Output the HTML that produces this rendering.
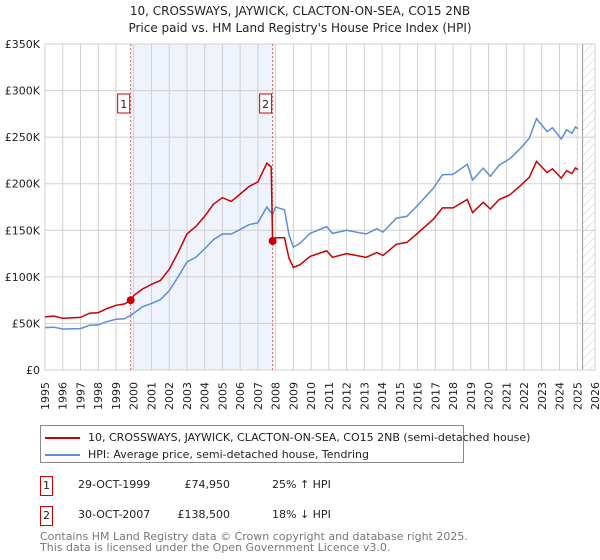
<!DOCTYPE html>
<html><head><meta charset="utf-8">
<style>
body{margin:0;background:#fff;font-family:"DejaVu Sans","Liberation Sans",sans-serif;}
#wrap{position:relative;width:600px;height:560px;overflow:hidden;}
svg text{font-family:"DejaVu Sans","Liberation Sans",sans-serif;}
</style></head><body>
<div id="wrap">
<svg id="chart" width="600" height="560" xmlns="http://www.w3.org/2000/svg">
<defs>
<pattern id="hatch" width="6" height="6" patternUnits="userSpaceOnUse" patternTransform="rotate(45)">
<line x1="0" y1="0" x2="0" y2="6" stroke="#ccc" stroke-width="1"/>
</pattern>
</defs>
<text x="300" y="15" text-anchor="middle" font-size="12" fill="#222">10, CROSSWAYS, JAYWICK, CLACTON-ON-SEA, CO15 2NB</text>
<text x="300" y="32" text-anchor="middle" font-size="12" fill="#222">Price paid vs. HM Land Registry's House Price Index (HPI)</text>
<g id="grid"></g>
<g id="marks"></g>
<g id="axes"></g>
</svg>
<div style="position:absolute;left:40px;top:425px;width:422px;height:36px;border:1px solid #888;font-size:11px;color:#222;">
 <div style="position:absolute;left:4px;top:5px;white-space:nowrap;"><span style="display:inline-block;width:35px;height:2px;background:#cc0000;vertical-align:middle;margin-right:8px;"></span>10, CROSSWAYS, JAYWICK, CLACTON-ON-SEA, CO15 2NB (semi-detached house)</div>
 <div style="position:absolute;left:4px;top:22px;white-space:nowrap;"><span style="display:inline-block;width:35px;height:2px;background:#5b8fd6;vertical-align:middle;margin-right:8px;"></span>HPI: Average price, semi-detached house, Tendring</div>
</div>
<div style="font-size:11px;color:#222;">
 <div style="position:absolute;left:40px;top:476px;width:11px;height:18px;border:1px solid #cc0000;text-align:center;line-height:18px;">1</div>
 <div style="position:absolute;left:78px;top:478px;">29-OCT-1999</div>
 <div style="position:absolute;left:150px;width:80px;text-align:right;top:478px;">£74,950</div>
 <div style="position:absolute;left:272px;top:478px;">25% ↑ HPI</div>
 <div style="position:absolute;left:40px;top:506px;width:11px;height:18px;border:1px solid #cc0000;text-align:center;line-height:18px;">2</div>
 <div style="position:absolute;left:78px;top:508px;">30-OCT-2007</div>
 <div style="position:absolute;left:150px;width:80px;text-align:right;top:508px;">£138,500</div>
 <div style="position:absolute;left:272px;top:508px;">18% ↓ HPI</div>
</div>
<div style="position:absolute;left:40px;top:531px;font-size:11px;color:#777;line-height:11px;">Contains HM Land Registry data © Crown copyright and database right 2025.<br>This data is licensed under the Open Government Licence v3.0.</div>
</div>
<script>
const hpiYears=[1995,1995.5,1996,1997,1997.5,1998,1998.5,1999,1999.5,2000,2000.5,2001,2001.5,2002,2002.5,2003,2003.5,2004,2004.5,2005,2005.5,2006,2006.5,2007,2007.5,2007.83,2008,2008.5,2008.75,2009,2009.37,2009.94,2010.88,2011.2,2012,2013.1,2013.7,2014.05,2014.8,2015.4,2015.95,2016.9,2017.4,2018,2018.8,2019.1,2019.7,2020.1,2020.6,2021.2,2021.8,2022.3,2022.7,2023.3,2023.6,2024.1,2024.4,2024.7,2024.9,2025.05];
const hpiValues=[45.5,46,44,44.5,48,48.5,52,54.5,55,61,68,71.5,75.5,85,100,116,121,130,140,146,146,151,156,158,175,167,175,172,145,132,136,146.7,153.9,146.7,150,146,151.7,148,163,165,175.6,195.4,209.7,210,221,204,216.8,208,220,226.7,238,249,270,256,260,248,258,254,261,259];
const priceYears=[1995,1995.5,1996,1997,1997.5,1998,1998.5,1999,1999.5,1999.83,2000,2000.5,2001,2001.5,2002,2002.5,2003,2003.5,2004,2004.5,2005,2005.5,2006,2006.5,2007,2007.5,2007.75,2007.83,2008,2008.5,2008.75,2009,2009.37,2009.94,2010.88,2011.2,2012,2013.1,2013.7,2014.05,2014.8,2015.4,2015.95,2016.9,2017.4,2018,2018.8,2019.1,2019.7,2020.1,2020.6,2021.2,2021.8,2022.3,2022.7,2023.3,2023.6,2024.1,2024.4,2024.7,2024.9,2025.05];
const priceValues=[57,58,55.5,56.5,61,61.5,66,69.5,71,74.95,80,87,92,96,108,126,146,154,165,178,185,181,189,197,202,222,218,138.5,142,142,120,110,113,122,128,121,125,121,126,123,135,137,146,162,174,174,183,169,180,173,183,188,198,207,224,212,216,206,214,211,217,215];
const saleYears=[1999.83,2007.83];
const saleValues=[74.95,138.5];
const saleLabels=["1","2"];
const yTicks=[0,50,100,150,200,250,300,350];
const yTickLabels=["£0","£50K","£100K","£150K","£200K","£250K","£300K","£350K"];
const xTicks=[1995,1996,1997,1998,1999,2000,2001,2002,2003,2004,2005,2006,2007,2008,2009,2010,2011,2012,2013,2014,2015,2016,2017,2018,2019,2020,2021,2022,2023,2024,2025,2026];

const X0=45,X1=595,Y0=370,Y1=44;
const xs=y=>X0+(y-1995)/(2026-1995)*(X1-X0);
const ys=v=>Y0-v/350*(Y0-Y1);
const NS="http://www.w3.org/2000/svg";
function mk(tag,attrs,parent){const e=document.createElementNS(NS,tag);for(const k in attrs)e.setAttribute(k,attrs[k]);parent.appendChild(e);return e;}
const grid=document.getElementById('grid'),marks=document.getElementById('marks'),axes=document.getElementById('axes');

// shaded period between sales
const shade=mk('rect',{x:xs(saleYears[0]),y:Y1,width:xs(saleYears[1])-xs(saleYears[0]),height:Y0-Y1,fill:'#eef3fc'},grid);


// hatch future
const hx=xs(2025.3);
const hatch=mk('rect',{x:hx,y:Y1,width:X1-hx,height:Y0-Y1,fill:'url(#hatch)'},grid);


mk('line',{x1:hx,y1:Y1,x2:hx,y2:Y0,stroke:'#999','stroke-width':1},grid);

yTicks.forEach((t,i)=>{
  const l=mk('line',{x1:X0,x2:X1,y1:ys(t),y2:ys(t),stroke:'#d0d0d0','stroke-width':1},grid);
  
  
  const tx=mk('text',{x:X0-5,y:ys(t)+4,'text-anchor':'end','font-size':11,fill:'#222'},axes);
  tx.textContent=yTickLabels[i];
  
  
});
xTicks.forEach(t=>{
  const l=mk('line',{x1:xs(t),x2:xs(t),y1:Y1,y2:Y0,stroke:'#d0d0d0','stroke-width':1},grid);
  
  
  const tx=mk('text',{x:0,y:0,'text-anchor':'end','font-size':11,fill:'#222',transform:`translate(${xs(t)+4},382) rotate(-90)`},axes);
  tx.textContent=String(t);
  
  
});
mk('rect',{x:X0,y:Y1,width:X1-X0,height:Y0-Y1,fill:'none',stroke:'#d0d0d0'},grid);

saleYears.forEach((s,i)=>{
  const l=mk('line',{x1:xs(s),x2:xs(s),y1:Y1,y2:Y0,stroke:'#e06060','stroke-width':1,'stroke-dasharray':'2,2'},marks);
  
  
});

function path(xa,va){return xa.map((y,i)=>(i?'L':'M')+xs(y).toFixed(1)+','+ys(va[i]).toFixed(1)).join('');}
const hp=mk('path',{d:path(hpiYears,hpiValues),fill:'none',stroke:'#5b8fd6','stroke-width':1.5},marks);


const pp=mk('path',{d:path(priceYears,priceValues),fill:'none',stroke:'#cc0000','stroke-width':1.5},marks);



saleYears.forEach((s,i)=>{
  const c=mk('circle',{cx:xs(s),cy:ys(saleValues[i]),r:4,fill:'#cc0000'},marks);
  
  
  const bx=xs(s)-13;
  const b=mk('rect',{x:bx,y:94,width:12,height:19,fill:'#fff',stroke:'#cc0000'},marks);
  
  
  const t=mk('text',{x:bx+6,y:108,'text-anchor':'middle','font-size':11,fill:'#222'},marks);
  t.textContent=saleLabels[i];
  
  
});
</script>
</body></html>
